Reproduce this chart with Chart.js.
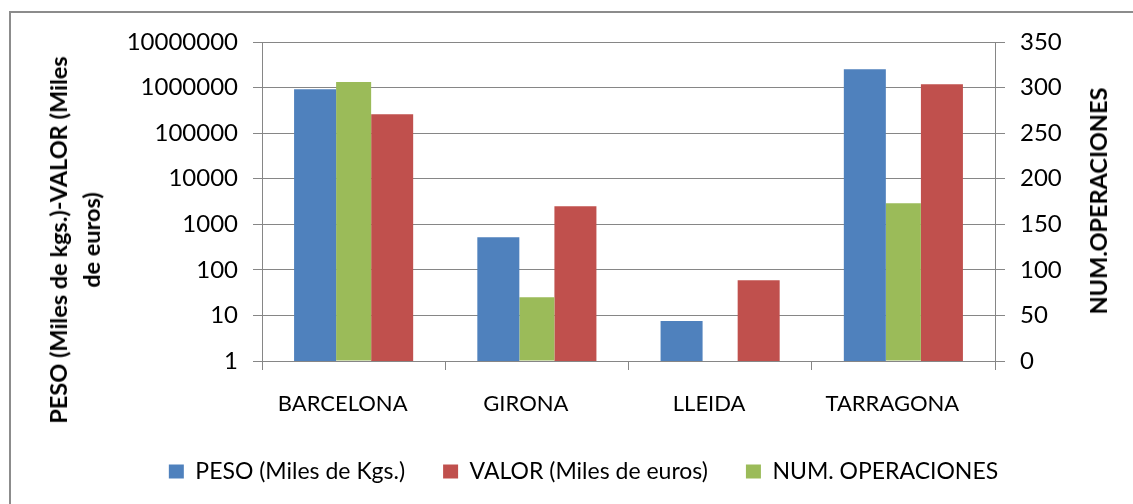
<!DOCTYPE html>
<html lang="es">
<head>
<meta charset="utf-8">
<title>Operaciones por provincia</title>
<script src="https://cdn.jsdelivr.net/npm/chart.js@4/dist/chart.umd.min.js"></script>
<style>
  html, body { margin: 0; padding: 0; background: #fff; }
  #wrap { position: relative; width: 1133px; height: 504px; overflow: hidden; }
  #marco { position: absolute; left: 9px; top: 11px; width: 1200px; height: 600px;
           border-left: 2px solid #8c8c8c; border-top: 2px solid #8c8c8c; }
  canvas { position: absolute; left: 0; top: 0; }
  .titulo-eje { position: absolute; font: bold 23.5px Lato, sans-serif; color: #000;
                text-align: center; white-space: nowrap; transform: translate(-50%, -50%) rotate(-90deg); }
</style>
</head>
<body>
<div id="wrap">
  <div id="marco"></div>
  <canvas id="grafico" width="1133" height="504"></canvas>
  <div class="titulo-eje" id="tituloIzq" style="left:75px; top:240px; line-height:33px;">PESO (Miles de kgs.)-VALOR (Miles<br>de euros)</div>
  <div class="titulo-eje" id="tituloDer" style="left:1098px; top:201px;">NUM.OPERACIONES</div>
</div>
<script>
// Datos por provincia
const provincias = ["BARCELONA", "GIRONA", "LLEIDA", "TARRAGONA"];
const peso = [918000, 521, 7.5, 2520000];          // miles de kgs.
const valor = [259000, 2500, 59, 1180000];         // miles de euros
const operaciones = [306, 70, null, 173];          // num. operaciones
const ticksIzq = [1, 10, 100, 1000, 10000, 100000, 1000000, 10000000];
const ticksDer = [0, 50, 100, 150, 200, 250, 300, 350];

const azul = "#4F81BD";
const rojo = "#C0504D";
const verde = "#9BBB59";
const gris = "#868686";

// orden en la leyenda: peso, valor, operaciones
const ordenLeyenda = [0, 2, 1];

const ctx = document.getElementById("grafico").getContext("2d");

new Chart(ctx, {
  type: "bar",
  data: {
    labels: provincias,
    datasets: [
      { label: "PESO (Miles de Kgs.)", data: peso, backgroundColor: azul, yAxisID: "y", barPercentage: 1.09 },
      { label: "NUM. OPERACIONES", data: operaciones, backgroundColor: verde, yAxisID: "y1", barPercentage: 0.909 },
      { label: "VALOR (Miles de euros)", data: valor, backgroundColor: rojo, yAxisID: "y", barPercentage: 1.09 }
    ]
  },
  options: {
    responsive: false,
    animation: false,
    categoryPercentage: 0.631,
    layout: { padding: { left: 34, right: 0, top: 42, bottom: 11 } },
    plugins: {
      tooltip: { enabled: false },
      legend: {
        position: "bottom",
        labels: {
          color: "#000",
          font: { family: "Lato", size: 23 },
          boxWidth: 15,
          boxHeight: 14,
          padding: 38,
          sort: (a, b) => ordenLeyenda.indexOf(a.datasetIndex) - ordenLeyenda.indexOf(b.datasetIndex)
        }
      }
    },
    scales: {
      x: {
        offset: true,
        grid: { offset: true, drawOnChartArea: false, color: gris, tickLength: 9 },
        border: { color: gris },
        ticks: { color: "#000", font: { family: "Lato", size: 22 }, padding: 21, labelOffset: -11 },
        afterFit: (scale) => { scale.height = 61; }
      },
      y: {
        type: "logarithmic",
        position: "left",
        min: 1,
        max: 10000000,
        afterBuildTicks: (scale) => { scale.ticks = ticksIzq.map(v => ({ value: v })); },
        grid: { color: gris, tickLength: 9 },
        border: { color: gris },
        ticks: {
          color: "#000",
          font: { family: "Lato", size: 24 },
          padding: 15,
          callback: (v) => String(v)
        },
        afterFit: (scale) => { scale.width = 228; }
      },
      y1: {
        type: "linear",
        position: "right",
        min: 0,
        max: 350,
        afterBuildTicks: (scale) => { scale.ticks = ticksDer.map(v => ({ value: v })); },
        grid: { drawOnChartArea: false, color: gris, tickLength: 10 },
        border: { color: gris },
        ticks: { color: "#000", font: { family: "Lato", size: 24 }, padding: 15 },
        afterFit: (scale) => { scale.width = 138; }
      }
    }
  }
});
</script>
</body>
</html>
